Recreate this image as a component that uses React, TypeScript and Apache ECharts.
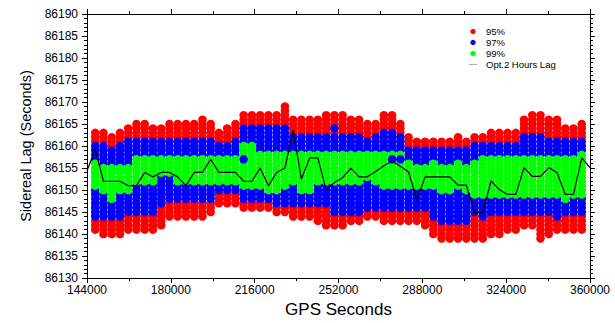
import React, { useEffect, useRef } from "react";
import * as echarts from "echarts";

// ---- axis extents ----
const X_START = 144000;
const X_END = 360000;
const N_STEPS = 61; // samples are evenly spaced from X_START to X_END

// ---- band limits per sample column (columns 1..60) ----
const redTop = [
  86163, 86163, 86162, 86163, 86164, 86165, 86165, 86164, 86164, 86165,
  86165, 86165, 86165, 86166, 86165, 86163, 86164, 86165, 86167, 86167,
  86167, 86167, 86167, 86169, 86166, 86166, 86166, 86166, 86167, 86167,
  86167, 86166, 86166, 86165, 86165, 86167, 86167, 86165, 86162, 86161,
  86161, 86161, 86161, 86161, 86162, 86161, 86162, 86162, 86163, 86163,
  86163, 86163, 86166, 86167, 86167, 86166, 86166, 86164, 86164, 86165,
];
const blueTop = [
  86160, 86160, 86159, 86160, 86161, 86161, 86161, 86161, 86161, 86161,
  86161, 86161, 86161, 86161, 86161, 86160, 86160, 86161, 86164, 86164,
  86164, 86164, 86164, 86164, 86162, 86162, 86162, 86162, 86162, 86162,
  86162, 86162, 86162, 86161, 86162, 86163, 86163, 86162, 86159, 86159,
  86159, 86159, 86159, 86159, 86159, 86159, 86160, 86160, 86160, 86160,
  86160, 86160, 86162, 86162, 86162, 86161, 86161, 86161, 86161, 86161,
];
const greenTop = [
  86156, 86155, 86155, 86155, 86155, 86157, 86157, 86157, 86157, 86157,
  86157, 86157, 86157, 86157, 86157, 86157, 86157, 86157, 86160, 86160,
  86158, 86158, 86158, 86158, 86158, 86158, 86158, 86158, 86158, 86158,
  86158, 86158, 86158, 86158, 86158, 86158, 86158, 86158, 86156, 86155,
  86155, 86156, 86155, 86155, 86156, 86155, 86156, 86157, 86157, 86157,
  86157, 86157, 86157, 86157, 86157, 86157, 86157, 86157, 86157, 86158,
];
const greenBottom = [
  86151, 86150, 86148, 86150, 86150, 86152, 86152, 86152, 86154, 86154,
  86152, 86152, 86152, 86152, 86152, 86152, 86152, 86152, 86151, 86151,
  86151, 86150, 86150, 86151, 86152, 86150, 86150, 86152, 86152, 86152,
  86152, 86152, 86152, 86153, 86152, 86151, 86151, 86151, 86151, 86151,
  86151, 86151, 86150, 86150, 86151, 86150, 86149, 86149, 86149, 86149,
  86149, 86149, 86149, 86149, 86149, 86149, 86149, 86148, 86149, 86149,
];
const blueBottom = [
  86144, 86144, 86144, 86144, 86145, 86145, 86145, 86145, 86147, 86148,
  86148, 86148, 86148, 86148, 86148, 86150, 86150, 86150, 86148, 86148,
  86148, 86148, 86147, 86147, 86147, 86147, 86147, 86147, 86147, 86145,
  86145, 86145, 86145, 86146, 86146, 86146, 86146, 86146, 86146, 86146,
  86146, 86144, 86143, 86143, 86143, 86143, 86145, 86144, 86145, 86145,
  86145, 86145, 86145, 86145, 86145, 86145, 86144, 86145, 86145, 86145,
];
const redBottom = [
  86141, 86140, 86140, 86140, 86141, 86141, 86141, 86141, 86142, 86144,
  86144, 86144, 86144, 86144, 86145, 86147, 86147, 86147, 86146, 86146,
  86146, 86146, 86145, 86145, 86144, 86144, 86144, 86143, 86142, 86142,
  86142, 86143, 86143, 86144, 86144, 86143, 86143, 86143, 86143, 86143,
  86142, 86140, 86139, 86139, 86139, 86139, 86139, 86139, 86140, 86140,
  86141, 86141, 86142, 86142, 86139, 86140, 86141, 86141, 86141, 86141,
];
// isolated 97% points lying inside other bands: [column, value]
const blueIslands: [number, number][] = [
  [30, 86164],
  [37, 86157],
  [38, 86157],
  [19, 86157],
];

// ---- Opt.2 Hours Lag line (samples 0..61) ----
const hoursLag = [
  86154.4, 86159.2, 86152, 86152, 86152, 86151, 86151, 86154, 86153, 86154,
  86154, 86153, 86151, 86154, 86154, 86157, 86154, 86154, 86154, 86152,
  86152, 86155, 86151, 86154, 86155, 86163.6, 86152.5, 86157.3, 86157.3, 86150,
  86151.7, 86152.8, 86155, 86153, 86153, 86154.2, 86155.5, 86156.6, 86155.4, 86154.1,
  86147.8, 86153, 86153, 86153, 86153, 86151.1, 86151.1, 86144.9, 86144.9, 86152.1,
  86150.1, 86149, 86149, 86155.1, 86153.1, 86153.1, 86155.1, 86154, 86149, 86149,
  86157.3, 86155.1,
];

const legendLabels = ["95%", "97%", "99%", "Opt.2 Hours Lag"];

const FONT = "Liberation Sans, Arial, Helvetica, sans-serif";

function sampleTime(k: number): number {
  return X_START + (k * (X_END - X_START)) / N_STEPS;
}

function buildData() {
  const red: number[][] = [];
  const blue: number[][] = [];
  const green: number[][] = [];
  for (let i = 0; i < redTop.length; i++) {
    const t = sampleTime(i + 1);
    for (let v = redBottom[i]; v < blueBottom[i]; v++) red.push([t, v]);
    for (let v = blueTop[i] + 1; v <= redTop[i]; v++) red.push([t, v]);
    for (let v = blueBottom[i]; v < greenBottom[i]; v++) blue.push([t, v]);
    for (let v = greenTop[i] + 1; v <= blueTop[i]; v++) blue.push([t, v]);
    for (let v = greenBottom[i]; v <= greenTop[i]; v++) green.push([t, v]);
  }
  const islands = blueIslands.map(([k, v]) => [sampleTime(k), v]);
  const line = hoursLag.map((v, k) => [sampleTime(k), v]);
  return { red, blue, green, islands, line };
}

export default function App() {
  const ref = useRef<HTMLDivElement>(null);

  useEffect(() => {
    if (!ref.current) return;
    document.body.style.margin = "0";
    const chart = echarts.init(ref.current, undefined, { renderer: "svg" });
    const { red, blue, green, islands, line } = buildData();

    const tickStyle = { color: "#000", width: 1 };
    const xBase = {
      type: "value" as const,
      min: X_START,
      max: X_END,
      interval: 36000,
      axisLine: { show: true, onZero: false, lineStyle: tickStyle },
      axisTick: { show: true, length: 5, lineStyle: tickStyle },
      minorTick: { show: true, splitNumber: 2, length: 3, lineStyle: tickStyle },
      splitLine: { show: false },
      minorSplitLine: { show: false },
    };
    const yBase = {
      type: "value" as const,
      min: 86130,
      max: 86190,
      interval: 5,
      axisLine: { show: true, onZero: false, lineStyle: tickStyle },
      axisTick: { show: true, length: 5, lineStyle: tickStyle },
      minorTick: { show: true, splitNumber: 5, length: 3, lineStyle: tickStyle },
      splitLine: { show: false },
      minorSplitLine: { show: false },
    };

    const dot = 8.5;
    const legendColors = ["#ff0000", "#0000ff", "#00ff00"];
    const legendY = [31.5, 42.5, 53.5, 64.5];
    const legendGraphics: any[] = [];
    legendLabels.forEach((label, i) => {
      if (i < 3) {
        legendGraphics.push({
          type: "circle",
          shape: { cx: 473, cy: legendY[i], r: 2.7 },
          style: { fill: legendColors[i] },
        });
      } else {
        legendGraphics.push({
          type: "line",
          shape: { x1: 469, y1: legendY[i], x2: 477, y2: legendY[i] },
          style: { stroke: "#aaaaaa", lineWidth: 1 },
        });
      }
      legendGraphics.push({
        type: "text",
        x: 486,
        y: legendY[i],
        style: {
          text: label,
          font: `9.5px ${FONT}`,
          fill: "#000",
          textVerticalAlign: "middle",
        },
      });
    });

    chart.setOption({
      animation: false,
      backgroundColor: "#fff",
      grid: { left: 87, right: 25, top: 14, bottom: 38 },
      xAxis: [
        {
          ...xBase,
          position: "bottom",
          axisLabel: {
            formatter: (v: number) => String(v),
            fontSize: 12,
            fontFamily: FONT,
            color: "#000",
            margin: 6,
          },
          name: "GPS Seconds",
          nameLocation: "middle",
          nameGap: 17,
          nameTextStyle: { fontSize: 17, fontFamily: FONT, color: "#000" },
        },
        { ...xBase, position: "top", axisLabel: { show: false } },
      ],
      yAxis: [
        {
          ...yBase,
          position: "left",
          axisLabel: {
            formatter: (v: number) => String(v),
            fontSize: 12,
            fontFamily: FONT,
            color: "#000",
            margin: 9,
          },
          name: "Sidereal Lag (Seconds)",
          nameLocation: "middle",
          nameGap: 53,
          nameTextStyle: { fontSize: 14.5, fontFamily: FONT, color: "#000" },
        },
        { ...yBase, position: "right", axisLabel: { show: false } },
      ],
      series: [
        {
          name: "95%",
          type: "scatter",
          data: red,
          symbol: "circle",
          symbolSize: dot,
          itemStyle: { color: "#ff0000", opacity: 1 },
          z: 2,
        },
        {
          name: "97%",
          type: "scatter",
          data: blue,
          symbol: "circle",
          symbolSize: dot,
          itemStyle: { color: "#0000ff", opacity: 1 },
          z: 3,
        },
        {
          name: "99%",
          type: "scatter",
          data: green,
          symbol: "circle",
          symbolSize: dot,
          itemStyle: { color: "#00ff00", opacity: 1 },
          z: 4,
        },
        {
          name: "97%",
          type: "scatter",
          data: islands,
          symbol: "circle",
          symbolSize: dot,
          itemStyle: { color: "#0000ff", opacity: 1 },
          z: 5,
        },
        {
          name: "Opt.2 Hours Lag",
          type: "line",
          data: line,
          showSymbol: false,
          symbol: "none",
          lineStyle: { color: "#000", width: 1.2 },
          z: 6,
        },
      ],
      graphic: legendGraphics,
    });

    return () => chart.dispose();
  }, []);

  return <div ref={ref} style={{ width: 615, height: 323 }} />;
}
